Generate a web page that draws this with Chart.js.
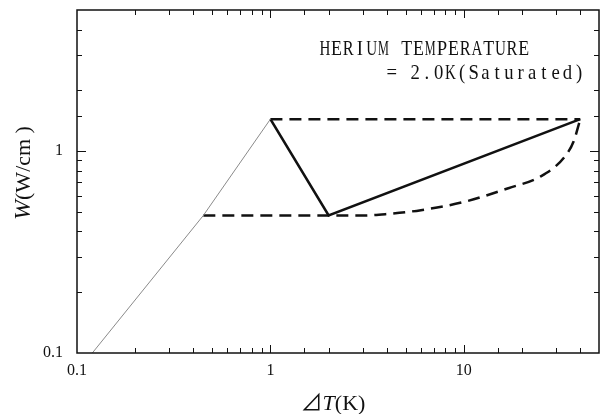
<!DOCTYPE html>
<html>
<head>
<meta charset="utf-8">
<script src="https://cdn.jsdelivr.net/npm/chart.js@4.4.0/dist/chart.umd.min.js"></script>
<style>
  html, body { margin: 0; padding: 0; background: #fff; }
  canvas { display: block; }
</style>
</head>
<body>
<canvas id="heatChart" width="601" height="414"></canvas>
<script>
// --- data (log-log) ---
const thinX = [0.12, 0.45, 1];
const thinY = [0.1, 0.48, 1.44];

const solidX = [1, 2, 40];
const solidY = [1.44, 0.48, 1.44];

const topDashX = [1, 40];
const topDashY = [1.44, 1.44];

const curveX = [0.45, 2, 3, 4, 6, 10, 17, 25, 33, 37, 40];
const curveY = [0.48, 0.48, 0.48, 0.488, 0.51, 0.56, 0.655, 0.75, 0.93, 1.12, 1.44];

const xTickLabels = ['0.1', '1', '10'];
const yTickLabels = ['0.1', '1'];

const noteLines = ['HERIUM TEMPERATURE', '= 2.0K(Saturated)'];

const SERIF = "'Liberation Serif', 'DejaVu Serif', serif";
const CJK = "'Noto Sans CJK JP', 'DejaVu Sans', sans-serif";

function pts(xs, ys) {
  return xs.map((v, i) => ({ x: v, y: ys[i] }));
}

function isPow10(v) {
  const l = Math.log10(v);
  return Math.abs(l - Math.round(l)) < 1e-9;
}

function fmt(v, list) {
  if (!isPow10(v)) return '';
  const s = String(Math.round(v * 10) / 10);
  return list.includes(s) ? s : '';
}

// frame, inward ticks on all four sides, axis titles and the note
const framePlugin = {
  id: 'frame',
  afterDraw(chart) {
    const { ctx, chartArea: a, scales: { x, y } } = chart;
    ctx.save();
    ctx.strokeStyle = '#111';
    ctx.lineWidth = 1.5;
    ctx.strokeRect(a.left, a.top, a.right - a.left, a.bottom - a.top);

    ctx.lineWidth = 1;
    ctx.beginPath();
    x.ticks.forEach(t => {
      const px = Math.round(x.getPixelForValue(t.value)) + 0.5;
      if (px <= a.left + 1 || px >= a.right - 1) return;
      const len = isPow10(t.value) ? 8 : 5;
      ctx.moveTo(px, a.bottom); ctx.lineTo(px, a.bottom - len);
      ctx.moveTo(px, a.top); ctx.lineTo(px, a.top + len);
    });
    y.ticks.forEach(t => {
      const py = Math.round(y.getPixelForValue(t.value)) + 0.5;
      if (py <= a.top + 1 || py >= a.bottom - 1) return;
      const len = isPow10(t.value) ? 9 : 5;
      ctx.moveTo(a.left, py); ctx.lineTo(a.left + len, py);
      ctx.moveTo(a.right, py); ctx.lineTo(a.right - len, py);
    });
    ctx.stroke();

    ctx.fillStyle = '#111';
    ctx.textBaseline = 'alphabetic';

    // x title: ⊿T(K)
    const pieces = [
      { t: '\u22BF', f: '22px ' + CJK },
      { t: 'T', f: 'italic 22px ' + SERIF },
      { t: '(K)', f: '22px ' + SERIF }
    ];
    let total = 0;
    pieces.forEach(p => { ctx.font = p.f; p.w = ctx.measureText(p.t).width; total += p.w; });
    let cx = 333 - total / 2;
    pieces.forEach(p => { ctx.font = p.f; ctx.fillText(p.t, cx, 410); cx += p.w; });

    // y title: W(W/cm )
    ctx.save();
    ctx.translate(30, 173);
    ctx.rotate(-Math.PI / 2);
    const yp = [
      { t: 'W', f: 'italic 24px ' + SERIF },
      { t: '(W/cm )', f: '22px ' + SERIF }
    ];
    total = 0;
    yp.forEach(p => { ctx.font = p.f; p.w = ctx.measureText(p.t).width; total += p.w; });
    cx = -total / 2;
    yp.forEach(p => { ctx.font = p.f; ctx.fillText(p.t, cx, 0); cx += p.w; });
    ctx.restore();

    // note, drawn as narrow monospaced cells
    ctx.font = '22px ' + SERIF;
    ctx.textAlign = 'center';
    const cell = 11.7;
    const starts = [{ x: 319, y: 55 }, { x: 386, y: 79 }];
    noteLines.forEach((line, li) => {
      [...line].forEach((ch, i) => {
        if (ch === ' ') return;
        const w = ctx.measureText(ch).width;
        const s = Math.min(0.85, (cell - 0.8) / w);
        ctx.save();
        ctx.translate(starts[li].x + cell * (i + 0.5), starts[li].y);
        ctx.scale(s, 1);
        ctx.fillText(ch, 0, 0);
        ctx.restore();
      });
    });
    ctx.restore();
  }
};

const ctx = document.getElementById('heatChart');

const config = {
  type: 'scatter',
  data: {
    datasets: [
      {
        data: pts(thinX, thinY),
        showLine: true,
        borderColor: '#8a8a8a',
        borderWidth: 1,
        pointRadius: 0
      },
      {
        data: pts(topDashX, topDashY),
        showLine: true,
        borderColor: '#111',
        borderWidth: 2.5,
        borderDash: [12, 7],
        pointRadius: 0
      },
      {
        data: pts(curveX, curveY),
        showLine: true,
        borderColor: '#111',
        borderWidth: 2.5,
        borderDash: [12, 7],
        cubicInterpolationMode: 'monotone',
        pointRadius: 0
      },
      {
        data: pts(solidX, solidY),
        showLine: true,
        borderColor: '#111',
        borderWidth: 2.6,
        pointRadius: 0
      }
    ]
  },
  options: {
    responsive: false,
    animation: false,
    layout: { padding: { top: 10, right: 2, left: 0, bottom: 0 } },
    scales: {
      x: {
        type: 'logarithmic',
        min: 0.1,
        max: 50,
        grid: { display: false, drawTicks: false },
        border: { display: false },
        afterFit(scale) {
          scale.height = 61;
          scale.paddingLeft = 0;
          scale.paddingRight = 0;
        },
        ticks: {
          autoSkip: false,
          maxRotation: 0,
          padding: 8,
          color: '#111',
          font: { family: SERIF, size: 16 },
          callback: v => fmt(v, xTickLabels)
        }
      },
      y: {
        type: 'logarithmic',
        min: 0.1,
        max: 5,
        grid: { display: false, drawTicks: false },
        border: { display: false },
        afterFit(scale) {
          scale.width = 77;
          scale.paddingTop = 0;
          scale.paddingBottom = 0;
        },
        ticks: {
          autoSkip: false,
          padding: 14,
          color: '#111',
          font: { family: SERIF, size: 16 },
          callback: v => fmt(v, yTickLabels)
        }
      }
    },
    plugins: {
      legend: { display: false },
      tooltip: { enabled: false }
    }
  },
  plugins: [framePlugin]
};

new Chart(ctx, config);
</script>
</body>
</html>
